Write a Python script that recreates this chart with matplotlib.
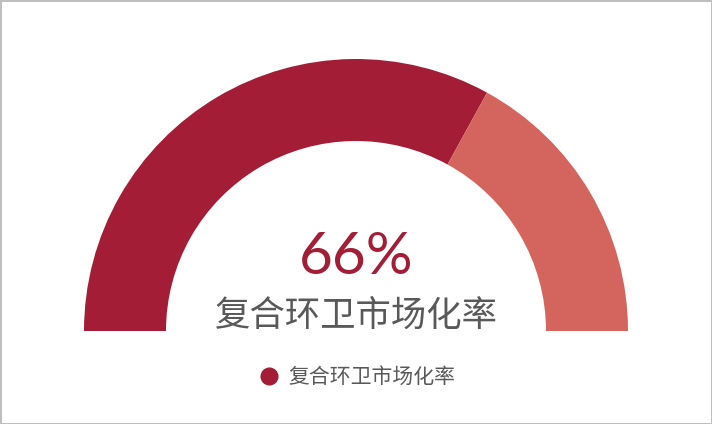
import matplotlib
matplotlib.use('Agg')
from matplotlib import pyplot as plt
from matplotlib.lines import Line2D

# data
label = '复合环卫市场化率'
rate = 66          # percent done
rest = 100 - rate  # remaining part of the half ring

dark = '#A31D36'
light = '#D4645E'
grey = '#595959'

plt.rcParams['font.family'] = ['Noto Sans CJK SC', 'DejaVu Sans']

fig = plt.figure(figsize=(7.12, 4.24), dpi=100)
fig.patch.set_facecolor('white')
fig.patch.set_edgecolor('#BFBFBF')
fig.patch.set_linewidth(2)

ax = fig.add_axes([0, 0, 1, 1])
# centre of the ring at (356, 331) px, outer radius 272 px
r_px = 272.0
cx, cy = 356.0, 331.0
ax.axis('off')

# the bottom half is an invisible wedge
ax.pie([rate, rest, 100], colors=[dark, light, 'none'],
       startangle=180, counterclock=False, radius=1.0,
       wedgeprops=dict(width=82 / r_px, linewidth=0))
ax.set_aspect('auto')
ax.set_xlim(-cx / r_px, (712 - cx) / r_px)
ax.set_ylim(-(424 - cy) / r_px, cy / r_px)

ax.text(0, (cy - 257) / r_px, '%d%%' % rate, ha='center', va='center',
        fontsize=42, color=dark, family=['Lato', 'DejaVu Sans'])
ax.text(0, (cy - 316) / r_px, label, ha='center', va='center',
        fontsize=25.5, color=grey)

handle = Line2D([], [], marker='o', linestyle='none', markersize=12,
                markerfacecolor=dark, markeredgecolor=dark)
leg = fig.legend([handle], [label], loc='center',
                 bbox_to_anchor=(0.5, 1 - 377 / 424), frameon=False,
                 fontsize=15, handletextpad=0.3, handlelength=1.2)
for t in leg.get_texts():
    t.set_color(grey)

fig.savefig('out.png', dpi=100, facecolor=fig.get_facecolor(),
            edgecolor=fig.get_edgecolor())
